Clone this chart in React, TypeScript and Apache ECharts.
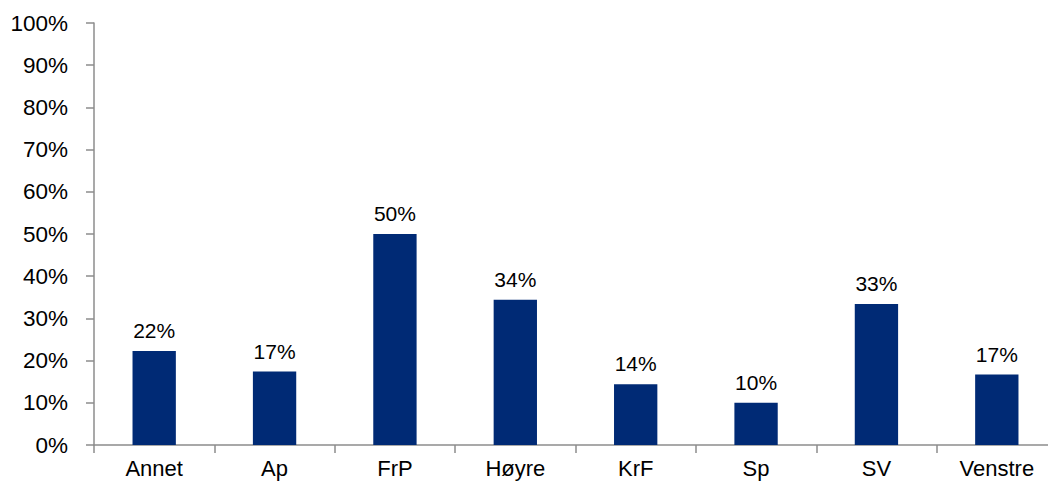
import React, { useEffect, useRef } from "react";
import * as echarts from "echarts";

const categories = ["Annet", "Ap", "FrP", "Høyre", "KrF", "Sp", "SV", "Venstre"];
const values = [22.3, 17.4, 50.0, 34.4, 14.4, 10.0, 33.4, 16.7];
const labels = ["22%", "17%", "50%", "34%", "14%", "10%", "33%", "17%"];

export default function App() {
  const ref = useRef<HTMLDivElement>(null);
  useEffect(() => {
    if (!ref.current) return;
    const chart = echarts.init(ref.current, undefined, { renderer: "svg" });
    const axisColor = "#8c8c8c";
    const font = "'Liberation Sans', Arial, sans-serif";
    chart.setOption({
      animation: false,
      grid: { left: 94, top: 23, bottom: 37, right: 3 },
      xAxis: {
        type: "category",
        data: categories,
        axisLine: { lineStyle: { color: axisColor, width: 1.5 } },
        axisTick: { show: true, length: 8, lineStyle: { color: axisColor, width: 1.5 } },
        axisLabel: { color: "#000", fontSize: 22, fontFamily: font, margin: 12 },
      },
      yAxis: {
        type: "value",
        min: 0,
        max: 100,
        interval: 10,
        axisLine: { show: true, lineStyle: { color: axisColor, width: 1.5 } },
        axisTick: { show: true, length: 8, lineStyle: { color: axisColor, width: 1.5 } },
        splitLine: { show: false },
        axisLabel: {
          color: "#000",
          fontSize: 22.5,
          fontFamily: font,
          margin: 26,
          formatter: (v: number) => `${v}%`,
        },
      },
      series: [
        {
          type: "bar",
          data: values,
          barWidth: "36%",
          itemStyle: { color: "#002A75" },
          label: {
            show: true,
            position: "top",
            distance: 10,
            color: "#000",
            fontSize: 21,
            fontFamily: font,
            formatter: (p: any) => labels[p.dataIndex],
          },
        },
      ],
    });
    return () => chart.dispose();
  }, []);
  return (
    <div style={{ width: 1048, height: 482, position: "absolute", left: 0, top: 0, overflow: "hidden" }}>
      <div ref={ref} style={{ width: 1060, height: 482 }} />
    </div>
  );
}
